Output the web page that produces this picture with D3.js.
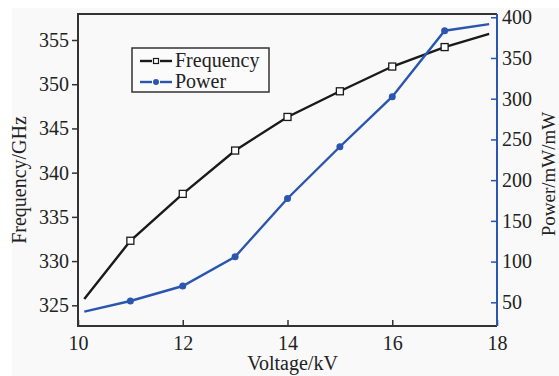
<!DOCTYPE html>
<html><head><meta charset="utf-8">
<script src="https://cdn.jsdelivr.net/npm/d3@7"></script>
<style>body{margin:0;background:#fff}svg{display:block}</style>
</head><body>
<svg id="c" width="559" height="376"></svg>
<script>
const voltage = [10.12, 11, 12, 13, 14, 15, 16, 17, 17.85];
const frequency = [325.7, 332.3, 337.6, 342.5, 346.3, 349.2, 352.0, 354.2, 355.7];
const power = [38.5, 51.6, 70, 106, 177.5, 241, 302.5, 383.5, 391.5];
const xTicks = [10, 12, 14, 16, 18];
const freqTicks = [325, 330, 335, 340, 345, 350, 355];
const powerTicks = [50, 100, 150, 200, 250, 300, 350, 400];
const seriesNames = ["Frequency", "Power"];

const svg = d3.select("#c");
const L = 78, R = 497, T = 14, B = 326;
const font = "'Liberation Serif','Times New Roman',serif";
const fs = 20;
const blue = "#2a56b0", black = "#1a1a1a", frame = "#333";

svg.append("rect").attr("x", 12).attr("y", 8).attr("width", 547).attr("height", 368).attr("fill", "#f9f9f9");

const x = d3.scaleLinear().domain([10, 18]).range([L, R]);
const yF = d3.scaleLinear().domain([322.66, 357.94]).range([B, T]);
const yP = d3.scaleLinear().domain([20.9, 404]).range([B, T]);

const gx = svg.append("g").attr("transform", `translate(0,${B})`)
  .call(d3.axisBottom(x).tickValues(xTicks).tickSizeInner(-6).tickSizeOuter(0).tickPadding(10));
const gl = svg.append("g").attr("transform", `translate(${L},0)`)
  .call(d3.axisLeft(yF).tickValues(freqTicks).tickSizeInner(6).tickSizeOuter(0).tickPadding(3));
const gr = svg.append("g").attr("transform", `translate(${R},0)`)
  .call(d3.axisRight(yP).tickValues(powerTicks).tickSizeInner(-6).tickSizeOuter(0).tickPadding(10));
[gx, gl, gr].forEach(g => {
  g.selectAll("text").attr("font-family", font).attr("font-size", fs).attr("fill", "#222");
  g.select(".domain").remove();
});
gx.selectAll("line").attr("stroke", frame).attr("stroke-width", 1.5);
gl.selectAll("line").attr("stroke", frame).attr("stroke-width", 1.5);
gr.selectAll("line").attr("stroke", blue).attr("stroke-width", 1.5);
gr.selectAll("text").attr("dx", -5);

svg.append("path").attr("d", `M${R},${T}H${L}V${B}H${R}`).attr("fill", "none").attr("stroke", frame).attr("stroke-width", 2);
svg.append("line").attr("x1", R).attr("x2", R).attr("y1", T).attr("y2", B).attr("stroke", blue).attr("stroke-width", 2);

const fData = voltage.map((v, i) => ({v, y: frequency[i]}));
const pData = voltage.map((v, i) => ({v, y: power[i]}));
svg.append("path").datum(fData)
  .attr("d", d3.line().x(d => x(d.v)).y(d => yF(d.y)))
  .attr("fill", "none").attr("stroke", black).attr("stroke-width", 2.4);
svg.append("path").datum(pData)
  .attr("d", d3.line().x(d => x(d.v)).y(d => yP(d.y)))
  .attr("fill", "none").attr("stroke", blue).attr("stroke-width", 2.4);

svg.selectAll(".fm").data(fData.filter(d => Number.isInteger(d.v))).enter().append("rect")
  .attr("x", d => x(d.v) - 3.5).attr("y", d => yF(d.y) - 3.5).attr("width", 7).attr("height", 7)
  .attr("fill", "#fff").attr("stroke", black).attr("stroke-width", 1.3);
svg.selectAll(".pm").data(pData.filter(d => Number.isInteger(d.v))).enter().append("circle")
  .attr("cx", d => x(d.v)).attr("cy", d => yP(d.y)).attr("r", 3.5)
  .attr("fill", blue);

const lg = svg.append("g");
lg.append("rect").attr("x", 132).attr("y", 48).attr("width", 137).attr("height", 44)
  .attr("fill", "#fbfbfb").attr("stroke", frame).attr("stroke-width", 1.5);
const lcol = [black, blue];
seriesNames.forEach((n, i) => {
  const ly = 61 + i * 21;
  lg.append("line").attr("x1", 140).attr("x2", 152).attr("y1", ly).attr("y2", ly).attr("stroke", lcol[i]).attr("stroke-width", 2.4);
  lg.append("line").attr("x1", 160).attr("x2", 172).attr("y1", ly).attr("y2", ly).attr("stroke", lcol[i]).attr("stroke-width", 2.4);
  if (i === 0) lg.append("rect").attr("x", 153.5).attr("y", ly - 2.5).attr("width", 5).attr("height", 5).attr("fill", "#fff").attr("stroke", black).attr("stroke-width", 1.2);
  else lg.append("circle").attr("cx", 156).attr("cy", ly).attr("r", 3).attr("fill", blue);
  lg.append("text").attr("x", 175).attr("y", ly + 6).text(n)
    .attr("font-family", font).attr("font-size", fs).attr("fill", "#222");
});

svg.append("text").attr("x", (L + R) / 2 + 5).attr("y", 370).attr("text-anchor", "middle")
  .attr("font-family", font).attr("font-size", fs).attr("fill", "#222").text("Voltage/kV");
svg.append("text").attr("transform", "translate(26,180) rotate(-90)").attr("text-anchor", "middle")
  .attr("font-family", font).attr("font-size", fs).attr("fill", "#222").text("Frequency/GHz");
svg.append("text").attr("transform", "translate(555,174) rotate(-90)").attr("text-anchor", "middle")
  .attr("font-family", font).attr("font-size", fs - 1).attr("fill", "#222").text("Power/mW/mW");
</script>
</body></html>
